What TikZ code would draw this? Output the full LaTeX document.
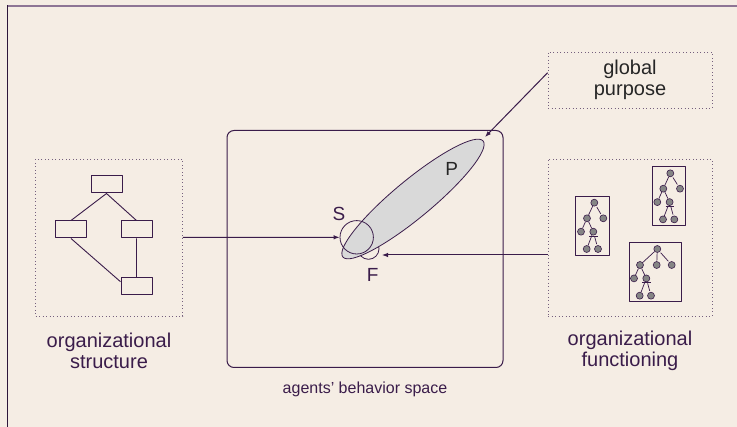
\documentclass[tikz,border=0pt]{standalone}
\usepackage{fontspec}
\setmainfont{Liberation Sans}
\usetikzlibrary{arrows.meta, calc}
\definecolor{bgcream}{HTML}{F5EDE4}
\definecolor{inkpurple}{HTML}{3A1C4A}
\definecolor{framegray}{HTML}{8E7595}
\definecolor{dotgray}{HTML}{75607E}
\definecolor{nodegray}{HTML}{858585}
\definecolor{blobgray}{HTML}{D9D9D9}

\begin{document}
\begin{tikzpicture}[x=1pt,y=-1pt,line join=round,
  lbl/.style={text=inkpurple,font=\fontsize{20}{21.5}\selectfont,align=center},
  letter/.style={text=inkpurple,font=\fontsize{19}{21}\selectfont},
  dotbox/.style={draw=dotgray,line width=0.9pt,dash pattern=on 0.9pt off 2.6pt,inner sep=0},
  unitbox/.style={draw=inkpurple,line width=1pt,minimum width=31,minimum height=17,inner sep=0},
  treebox/.style={draw=inkpurple,line width=1pt,inner sep=0},
  tnode/.style={circle,draw=inkpurple,fill=nodegray,line width=0.6pt,minimum size=7pt,inner sep=0},
  tedge/.style={draw=inkpurple,line width=0.7pt,shorten <=1.2pt,shorten >=1.2pt},
  arr/.style={draw=inkpurple,line width=1pt,-{Latex[length=6pt,width=4.5pt]}},
  branch/.pic={
    \node[tnode] (-top) at (0,0) {};
    \node[tnode] (-l) at (-6,13.4) {};
    \node[tnode] (-m) at (6.3,13.4) {};
    \node[tnode] (-ga) at (-0.3,30.7) {};
    \node[tnode] (-gb) at (11,30.7) {};
    \draw[tedge] (-top) -- (-l) (-top) -- (-m) (-m) -- (-ga) (-m) -- (-gb);
    \draw[inkpurple,line width=0.7pt] (2.3,17.7) -- (10.8,17.7);
  }]
  % background and frame
  \fill[bgcream] (0,0) rectangle (737,427);
  \useasboundingbox (0,0) rectangle (737,427);
  \draw[framegray,line width=2pt] (7,6.5) -- (737,6.5);
  \draw[inkpurple!80!black,line width=1.5pt] (7.3,5.5) -- (7.3,427);

  % organizational structure
  \node[dotbox,minimum width=147,minimum height=157] (strbox) at (109,237.5) {};
  \node[unitbox] (u1) at (106.5,184.5) {};
  \node[unitbox] (u2) at (71,229.5) {};
  \node[unitbox] (u3) at (136.5,229.5) {};
  \node[unitbox] (u4) at (136.5,286) {};
  \draw[inkpurple,line width=0.9pt] (u1.south) -- (u2.north) (u1.south) -- (u3.north)
    (u2.south) -- (u4.165) (u3.south) -- (u4.north);
  \node[lbl] (strlbl) at (109,351) {organizational\\structure};

  % behavior space
  \node[draw=inkpurple,line width=1pt,rounded corners=7pt,minimum width=276,minimum height=237,inner sep=0] (space) at (365,249) {};
  \node[text=inkpurple,font=\fontsize{16}{18}\selectfont] (spacelbl) at (365,389) {agents' behavior space};

  % organizational functioning
  \node[dotbox,minimum width=164,minimum height=157] (fnbox) at (630,237.5) {};
  \node[treebox,minimum width=34,minimum height=59] (boxa) at (592,226.5) {};
  \node[treebox,minimum width=33,minimum height=59] (boxb) at (668.5,196.5) {};
  \node[treebox,minimum width=52,minimum height=59] (boxc) at (655,272.5) {};
  \node[tnode] (ar) at (594.3,202.7) {};
  \pic (ab) at (587,218.3) {branch};
  \node[tnode] (ac) at (603.3,218.3) {};
  \draw[tedge] (ar) -- (ab-top) (ar) -- (ac);
  \node[tnode] (br) at (670.3,173.3) {};
  \pic (bb) at (663.3,188.7) {branch};
  \node[tnode] (bc) at (680,188.7) {};
  \draw[tedge] (br) -- (bb-top) (br) -- (bc);
  \node[tnode] (cr) at (657.3,249) {};
  \pic (cb) at (640,265) {branch};
  \node[tnode] (cc) at (656.7,265) {};
  \node[tnode] (cd) at (671.7,265) {};
  \draw[tedge] (cr) -- (cb-top) (cr) -- (cc) (cr) -- (cd);
  \node[lbl] (fnlbl) at (630,351) {organizational\\functioning};

  % global purpose
  \node[dotbox,lbl,text=black!85,minimum width=164,minimum height=56] (gpbox) at (630,80) {global\\purpose};

  % S, P, F
  \coordinate (blobc) at (413,199);
  \node[circle,draw=inkpurple,line width=0.8pt,minimum size=21,inner sep=0] (fcirc) at (368.5,248.8) {};
  \filldraw[fill=blobgray,draw=inkpurple,line width=0.8pt,rotate around={39.6:(blobc)}] (blobc) ellipse[x radius=91,y radius=19];
  \node[circle,draw=inkpurple,line width=0.8pt,minimum size=33.4,inner sep=0] (scirc) at (356.7,237.3) {};
  \node[letter] (slbl) at (339,214) {S};
  \node[letter,text=black!85] (plbl) at (451.7,169.3) {P};
  \node[letter] (flbl) at (372.7,275) {F};
  \coordinate (ptip) at (485,137);
  \coordinate (ftip) at (382,255);

  % arrows
  \draw[arr] (strbox.east) -- (scirc.west);
  \draw[arr] (fnbox.west |- ftip) -- (ftip);
  \draw[arr] (gpbox.175) -- (ptip);
\end{tikzpicture}
\end{document}
